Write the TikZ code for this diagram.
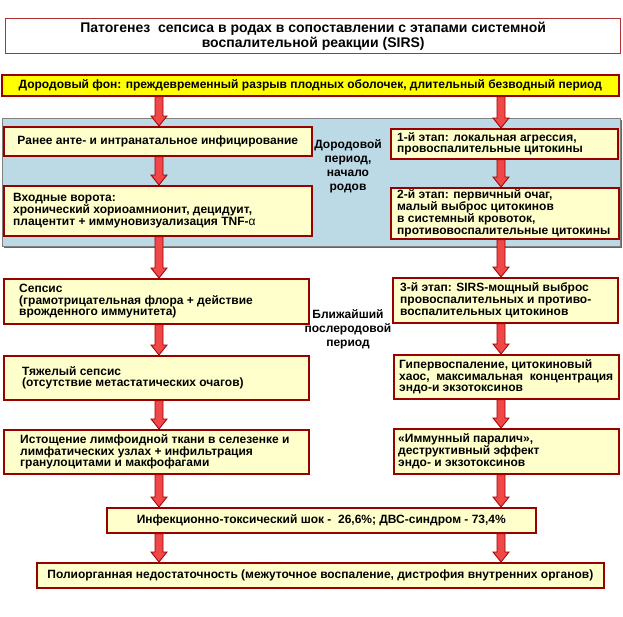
\documentclass[tikz,border=0pt]{standalone}
\usepackage{fontspec}
\setmainfont{Liberation Sans}
\usetikzlibrary{calc,shadows}
\definecolor{boxfill}{HTML}{FFFFCC}
\definecolor{boxred}{HTML}{990000}
\definecolor{baryellow}{HTML}{FFFF00}
\definecolor{panelblue}{HTML}{BCD9E6}
\definecolor{arrfill}{HTML}{F04848}
\definecolor{arrdraw}{HTML}{A00000}
\tikzset{
  box/.style={draw=boxred, fill=boxfill, line width=1.6pt, anchor=north west, inner sep=0pt,
    drop shadow={shadow xshift=1.3pt, shadow yshift=-1.3pt, fill=black!55, opacity=1}},
  txt/.style={inner sep=0pt, align=left, font=\bfseries\fontsize{12}{11.7}\selectfont},
  ctxt/.style={box, align=center, font=\bfseries\fontsize{12}{12}\selectfont},
  lbl/.style={inner sep=0pt, align=center, font=\bfseries\fontsize{12}{14}\selectfont},
  fatarr/.style={fill=arrfill, draw=arrdraw, line width=0.8pt},
}
\newcommand\bx[7]{%
  \node[box, minimum width=#4pt, minimum height=#5pt] (#1) at (#2,#3) {};
  \node[txt, anchor=west] (#1-t) at ([xshift=#6pt]#1.west) {#7};}
\newcommand\fatarrow[2]{%
  \path[fatarr] let \p1=(#1), \p2=(#2) in
    (\x1-4pt,\y1) -- (\x1+4pt,\y1) -- (\x1+4pt,\y2+10pt) -- (\x1+8pt,\y2+10pt)
    -- (\x1,\y2) -- (\x1-8pt,\y2+10pt) -- (\x1-4pt,\y2+10pt) -- cycle;}
\begin{document}
\begin{tikzpicture}[x=1pt,y=-1pt]
\useasboundingbox (0,0) rectangle (623,616);
\coordinate (colL) at (159,0);
\coordinate (colR) at (501,0);
% panel
\fill[black!60] (4,120) rectangle (622,248);
\draw[fill=panelblue, draw=black!50, line width=0.6pt] (2,118) rectangle (620,246);
% title
\node[draw=boxred!80, fill=white, line width=1.4pt, anchor=north west, inner sep=0pt,
  minimum width=615pt, minimum height=35pt, align=center,
  font=\bfseries\fontsize{14}{15}\selectfont] (title) at (5,18)
  {Патогенез\ \ сепсиса в родах в сопоставлении с этапами системной\\воспалительной реакции (SIRS)};
% yellow bar
\node[box, fill=baryellow, minimum width=617pt, minimum height=21pt, align=center,
  font=\bfseries\fontsize{12}{12}\selectfont] (bar) at (1,74)
  {Дородовый фон: преждевременный разрыв плодных оболочек, длительный безводный период};
% left column
\node[ctxt, minimum width=308pt, minimum height=29pt] (ranee) at (3,126)
  {Ранее анте- и интранатальное инфицирование};
\bx{vhod}{3}{185}{308}{50}{10}{Входные ворота:\\хронический хориоамнионит, децидуит,\\плацентит + иммуновизуализация TNF-{\mdseries α}}
\bx{sepsis}{3}{278}{305}{45}{16}{\fontsize{12}{12.5}\selectfont Сепсис\\(грамотрицательная флора + действие\\врожденного иммунитета)}
\bx{heavy}{3}{355}{305}{44}{19}{\fontsize{12}{13.5}\selectfont Тяжелый сепсис\\(отсутствие метастатических очагов)}
\bx{depl}{3}{429}{305}{44}{17}{Истощение лимфоидной ткани в селезенке и\\лимфатических узлах + инфильтрация\\гранулоцитами и макфофагами}
% right column
\bx{st1}{390}{128}{227}{30}{7}{1-й этап: локальная агрессия,\\провоспалительные цитокины}
\bx{st2}{390}{187}{228}{51}{7}{2-й этап: первичный очаг,\\малый выброс цитокинов\\в системный кровоток,\\противовоспалительные цитокины}
\bx{st3}{392}{277}{225}{45}{8}{3-й этап: SIRS-мощный выброс\\провоспалительных и противо-\\воспалительных цитокинов}
\bx{hyper}{393}{354}{225}{44}{6}{Гипервоспаление, цитокиновый\\\hbox to 214pt{хаос,\hfill максимальная\hfill концентрация}\\эндо-и экзотоксинов}
\bx{immune}{393}{428}{225}{45}{5}{«Иммунный паралич»,\\деструктивный эффект\\эндо- и экзотоксинов}
% bottom
\node[ctxt, minimum width=429pt, minimum height=25pt] (shock) at (106,507)
  {Инфекционно-токсический шок -\ \ 26,6\%; ДВС-синдром - 73,4\%};
\node[ctxt, minimum width=567pt, minimum height=25pt] (poly) at (36,562)
  {Полиорганная недостаточность (межуточное воспаление, дистрофия внутренних органов)};
% labels
\node[lbl] (prenatal) at (348,166) {Дородовой\\период,\\начало\\родов};
\node[lbl] (postnatal) at (348,329) {Ближайший\\послеродовой\\период};
% arrows
\fatarrow{bar.south -| colL}{ranee.north -| colL}
\fatarrow{ranee.south -| colL}{vhod.north -| colL}
\fatarrow{vhod.south -| colL}{sepsis.north -| colL}
\fatarrow{sepsis.south -| colL}{heavy.north -| colL}
\fatarrow{heavy.south -| colL}{depl.north -| colL}
\fatarrow{depl.south -| colL}{shock.north -| colL}
\fatarrow{shock.south -| colL}{poly.north -| colL}
\fatarrow{bar.south -| colR}{st1.north -| colR}
\fatarrow{st1.south -| colR}{st2.north -| colR}
\fatarrow{st2.south -| colR}{st3.north -| colR}
\fatarrow{st3.south -| colR}{hyper.north -| colR}
\fatarrow{hyper.south -| colR}{immune.north -| colR}
\fatarrow{immune.south -| colR}{shock.north -| colR}
\fatarrow{shock.south -| colR}{poly.north -| colR}
\end{tikzpicture}
\end{document}
